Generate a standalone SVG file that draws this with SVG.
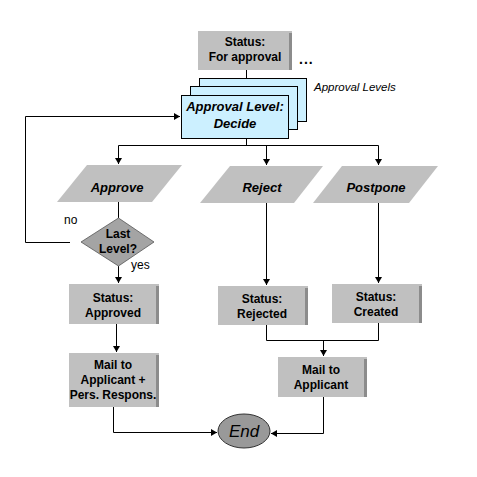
<svg xmlns="http://www.w3.org/2000/svg" width="477" height="477" viewBox="0 0 477 477">
<defs>
<style>
.box{fill:#c0c0c0}
.shade{fill:#8c8c8c}
.card{fill:#ccf0ff;stroke:#000;stroke-width:1}
.para{fill:#c0c0c0}
.t{font-family:"Liberation Sans",Arial,sans-serif;font-size:12px;font-weight:bold;fill:#000;text-anchor:middle}
.ti{font-family:"Liberation Sans",Arial,sans-serif;font-size:13px;font-weight:bold;font-style:italic;fill:#000;text-anchor:middle}
.lbl{font-family:"Liberation Sans",Arial,sans-serif;font-size:12px;fill:#000}
.c{fill:none;stroke:#000;stroke-width:1}
</style>
<marker id="ah" markerWidth="7" markerHeight="7" refX="6" refY="3.5" orient="auto" markerUnits="userSpaceOnUse">
<path d="M0,0 L6,3.5 L0,7 Z" fill="#000"/>
</marker>
</defs>
<rect width="477" height="477" fill="#fff"/>

<g id="connectors">
<path class="c" d="M246.5,70 V94" marker-end="url(#ah)"/>
<path class="c" d="M246.5,139 V145.5 M118.5,145.5 H378.5"/>
<path class="c" d="M118.5,145.5 V164" marker-end="url(#ah)"/>
<path class="c" d="M266.5,145.5 V165" marker-end="url(#ah)"/>
<path class="c" d="M378.5,145.5 V165" marker-end="url(#ah)"/>
<path class="c" d="M118.5,202 V218"/>
<path class="c" d="M118.5,266 V283" marker-end="url(#ah)"/>
<path class="c" d="M70,242.5 H25.5 V116.5 H180" marker-end="url(#ah)"/>
<path class="c" d="M116.5,324 V352" marker-end="url(#ah)"/>
<path class="c" d="M113.5,407 V432.5 H217" marker-end="url(#ah)"/>
<path class="c" d="M266.5,203 V285" marker-end="url(#ah)"/>
<path class="c" d="M378.5,203 V283" marker-end="url(#ah)"/>
<path class="c" d="M266.5,325 V340.5 H378.5 V323"/>
<path class="c" d="M323.5,340.5 V356" marker-end="url(#ah)"/>
<path class="c" d="M323.5,397 V433.5 H271" marker-end="url(#ah)"/>
</g>

<g id="status-for-approval">
<rect class="box" x="198" y="31" width="94" height="39"/>
<rect class="shade" x="289" y="33" width="3" height="37"/>
<text class="t" x="245" y="46">Status:</text>
<text class="t" x="245" y="61">For approval</text>
</g>
<g id="ellipsis">
<text x="299" y="64" font-family="Liberation Sans,Arial,sans-serif" font-size="14" font-weight="bold" letter-spacing="1" fill="#000">...</text>
</g>

<g id="approval-level">
<rect class="card" x="199.5" y="78.5" width="107" height="43"/>
<rect class="card" x="190.5" y="86.5" width="107" height="43"/>
<rect class="card" x="181.5" y="95.5" width="107" height="43"/>
<text class="ti" x="235" y="111">Approval Level:</text>
<text class="ti" x="235" y="128">Decide</text>
</g>
<g id="approval-levels-label">
<text x="314" y="91" font-family="Liberation Sans,Arial,sans-serif" font-size="11.5" font-style="italic" fill="#000">Approval Levels</text>
</g>

<g id="approve">
<polygon class="para" points="87,165 182,165 152,202 57,202"/>
<text class="ti" x="117" y="192">Approve</text>
</g>
<g id="reject">
<polygon class="para" points="230,166 323,166 294,203 200,203"/>
<text class="ti" x="262" y="192">Reject</text>
</g>
<g id="postpone">
<polygon class="para" points="342,166 438,166 409,203 313,203"/>
<text class="ti" x="376" y="192">Postpone</text>
</g>

<g id="last-level">
<polygon points="118.5,218 154,242 118.5,266 81,242" fill="#a4a4a4" stroke="#555" stroke-width="0.8"/>
<text class="t" x="118" y="238">Last</text>
<text class="t" x="118" y="253">Level?</text>
</g>
<g id="label-no"><text class="lbl" x="64" y="224">no</text></g>
<g id="label-yes"><text class="lbl" x="131" y="269">yes</text></g>

<g id="status-approved">
<rect class="box" x="69" y="284" width="90" height="40"/>
<rect class="shade" x="156" y="286" width="3" height="38"/>
<text class="t" x="113" y="302">Status:</text>
<text class="t" x="113" y="317">Approved</text>
</g>
<g id="status-rejected">
<rect class="box" x="218" y="286" width="90" height="39"/>
<rect class="shade" x="305" y="288" width="3" height="37"/>
<text class="t" x="262" y="303">Status:</text>
<text class="t" x="262" y="318">Rejected</text>
</g>
<g id="status-created">
<rect class="box" x="332" y="284" width="90" height="39"/>
<rect class="shade" x="419" y="286" width="3" height="37"/>
<text class="t" x="376" y="301">Status:</text>
<text class="t" x="376" y="316">Created</text>
</g>

<g id="mail-applicant-pers">
<rect class="box" x="69" y="353" width="90" height="54"/>
<rect class="shade" x="156" y="355" width="3" height="52"/>
<text class="t" x="113" y="369">Mail to</text>
<text class="t" x="113" y="384">Applicant +</text>
<text class="t" x="113" y="399">Pers. Respons.</text>
</g>
<g id="mail-applicant">
<rect class="box" x="278" y="357" width="89" height="40"/>
<rect class="shade" x="364" y="359" width="3" height="38"/>
<text class="t" x="321" y="374">Mail to</text>
<text class="t" x="321" y="389">Applicant</text>
</g>

<g id="end">
<ellipse cx="244" cy="431" rx="26" ry="17" fill="#999" stroke="#333" stroke-width="1"/>
<text x="244" y="437" font-family="Liberation Sans,Arial,sans-serif" font-size="17" font-style="italic" fill="#000" text-anchor="middle">End</text>
</g>
</svg>
